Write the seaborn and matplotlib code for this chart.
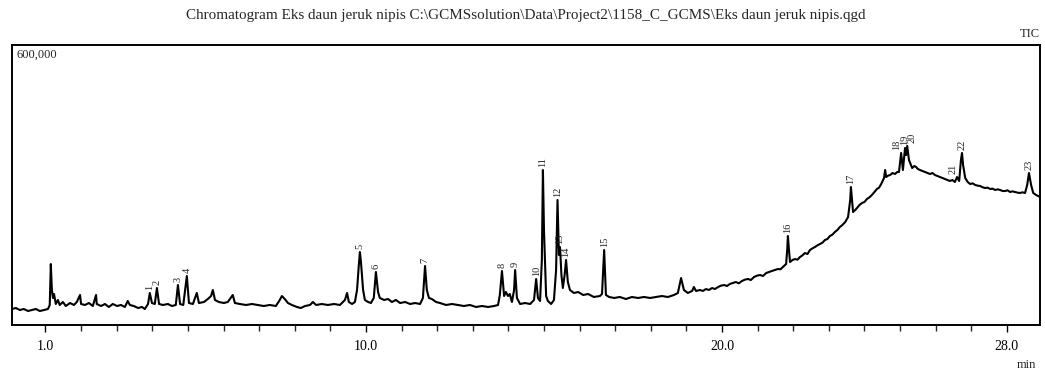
import matplotlib
matplotlib.use("Agg")
import matplotlib.pyplot as plt
import seaborn as sns
import pandas as pd

# ---- data (retention time in min, TIC counts) ----
times = [
    0.06, 0.17, 0.28, 0.39, 0.51, 0.62, 0.73, 0.84, 0.96, 1.07, 1.12, 1.15, 1.18, 1.21, 1.24,
    1.29, 1.35, 1.40, 1.49, 1.57, 1.69, 1.80, 1.88, 1.97, 2.00, 2.11, 2.22, 2.33, 2.42, 2.44,
    2.56, 2.67, 2.78, 2.89, 3.01, 3.12, 3.23, 3.31, 3.37, 3.48, 3.60, 3.71, 3.79, 3.88, 3.93,
    3.99, 4.07, 4.13, 4.19, 4.30, 4.44, 4.55, 4.66, 4.72, 4.78, 4.87, 4.97, 5.03, 5.14, 5.25,
    5.31, 5.45, 5.56, 5.65, 5.70, 5.76, 5.87, 6.01, 6.12, 6.26, 6.32, 6.46, 6.63, 6.80, 6.97,
    7.13, 7.30, 7.47, 7.58, 7.64, 7.72, 7.81, 7.92, 8.06, 8.17, 8.29, 8.43, 8.51, 8.60, 8.76,
    8.93, 9.10, 9.27, 9.41, 9.47, 9.52, 9.61, 9.69, 9.75, 9.80, 9.83, 9.86, 9.92, 9.97, 10.06,
    10.14, 10.22, 10.28, 10.34, 10.39, 10.51, 10.62, 10.73, 10.84, 10.96, 11.10, 11.24, 11.38,
    11.52, 11.60, 11.66, 11.71, 11.77, 11.85, 11.97, 12.08, 12.25, 12.42, 12.58, 12.75, 12.92,
    13.09, 13.26, 13.43, 13.60, 13.71, 13.76, 13.82, 13.88, 13.93, 13.99, 14.04, 14.10, 14.16,
    14.19, 14.24, 14.33, 14.47, 14.61, 14.72, 14.78, 14.83, 14.89, 14.94, 14.97, 15.00, 15.06,
    15.11, 15.20, 15.28, 15.34, 15.38, 15.42, 15.45, 15.49, 15.53, 15.58, 15.62, 15.67, 15.73,
    15.84, 15.96, 16.10, 16.24, 16.40, 16.57, 16.63, 16.69, 16.74, 16.83, 16.97, 17.13, 17.30,
    17.47, 17.64, 17.81, 17.98, 18.15, 18.31, 18.48, 18.65, 18.76, 18.85, 18.93, 19.04, 19.16,
    19.21, 19.27, 19.38, 19.46, 19.55, 19.63, 19.72, 19.80, 19.89, 19.97, 20.06, 20.14, 20.22,
    20.30, 20.39, 20.47, 20.56, 20.64, 20.73, 20.81, 20.90, 20.98, 21.07, 21.15, 21.24, 21.32,
    21.40, 21.49, 21.57, 21.64, 21.71, 21.80, 21.83, 21.85, 21.88, 21.91, 21.98, 22.05, 22.12,
    22.19, 22.26, 22.33, 22.40, 22.47, 22.54, 22.61, 22.68, 22.75, 22.82, 22.89, 22.96, 23.03,
    23.10, 23.17, 23.24, 23.31, 23.38, 23.46, 23.54, 23.60, 23.62, 23.65, 23.68, 23.74, 23.79,
    23.86, 23.93, 24.00, 24.07, 24.14, 24.21, 24.28, 24.35, 24.41, 24.47, 24.55, 24.58, 24.61,
    24.66, 24.72, 24.79, 24.86, 24.92, 24.97, 25.03, 25.08, 25.14, 25.17, 25.20, 25.25, 25.34,
    25.40, 25.45, 25.50, 25.56, 25.63, 25.70, 25.77, 25.84, 25.91, 25.98, 26.05, 26.12, 26.19,
    26.26, 26.33, 26.40, 26.47, 26.54, 26.60, 26.66, 26.71, 26.74, 26.77, 26.83, 26.90, 26.97,
    27.04, 27.11, 27.18, 27.25, 27.32, 27.39, 27.46, 27.53, 27.60, 27.67, 27.74, 27.81, 27.88,
    27.95, 28.02, 28.09, 28.16, 28.23, 28.30, 28.37, 28.44, 28.51, 28.57, 28.62, 28.68, 28.74,
    28.82, 28.93,
]
intensity = [
    34300, 36400, 32100, 34300, 30000, 32100, 34300, 30000, 32100, 34300, 42900, 130700, 75000, 57900, 66400,
    45000, 53600, 42900, 49300, 40700, 47100, 42900, 49300, 64300, 45000, 42900, 47100, 40700, 64300, 45000,
    40700, 45000, 38600, 45000, 40700, 42900, 38600, 51400, 42900, 40700, 36400, 38600, 34300, 45000, 68600,
    47100, 45000, 79300, 45000, 42900, 45000, 40700, 42900, 85700, 45000, 42900, 105000, 47100, 45000, 68600,
    47100, 49300, 55700, 62100, 75000, 53600, 49300, 47100, 49300, 64300, 47100, 45000, 42900, 45000, 42900,
    40700, 42900, 40700, 53600, 62100, 55700, 47100, 42900, 38600, 36400, 40700, 42900, 49300, 42900, 45000,
    42900, 45000, 42900, 53600, 68600, 49300, 45000, 49300, 75000, 128600, 156400, 135000, 75000, 53600, 49300,
    47100, 57900, 113600, 70700, 57900, 53600, 55700, 49300, 53600, 47100, 49300, 45000, 47100,
    45000, 57900, 126400, 75000, 57900, 55700, 49300, 47100, 42900, 45000, 42900, 40700, 42900,
    38600, 40700, 38600, 40700, 42900, 64300, 115700, 62100, 70700, 62100, 66400, 49300, 75000,
    117900, 57900, 45000, 47100, 45000, 53600, 98600, 57900, 51400, 139300, 332100, 203600, 62100,
    51400, 45000, 53600, 117900, 267900, 150000, 167100, 107100, 79300, 107100, 139300, 92100, 75000,
    68600, 70700, 64300, 66400, 60000, 62100, 66400, 160700, 64300, 60000, 57900, 60000, 55700,
    60000, 57900, 60000, 57900, 60000, 62100, 60000, 64300, 68600, 100700, 75000, 68600, 72900,
    81400, 72900, 75000, 72900, 77100, 75000, 79300, 77100, 81400, 84300, 85700, 83600, 87900,
    90000, 92100, 89300, 94300, 97100, 98600, 96400, 102900, 105700, 107100, 105000, 111400, 113600,
    115700, 117900, 120000, 119300, 124300, 130700, 160700, 190700, 160700, 135000, 139300, 141400, 140000,
    145700, 149300, 154300, 152100, 160700, 164300, 167100, 170700, 173600, 176400, 182100, 184300, 190700,
    193600, 199300, 203600, 210000, 214300, 220700, 231400, 267900, 295700, 267900, 242100, 246400, 250700,
    257100, 261400, 263600, 270000, 273600, 278600, 285000, 291400, 294300, 302100, 315000, 332100, 317100,
    320000, 321400, 325700, 323600, 327900, 327900, 368600, 332100, 379300, 364300, 383600, 353600, 336400,
    340700, 338600, 334300, 332100, 330000, 327900, 325700, 323600, 325700, 321400, 319300, 317100, 315000,
    312900, 310700, 308600, 310700, 306400, 317100, 308600, 353600, 368600, 342900, 315000, 306400, 302100,
    303600, 300000, 298600, 297900, 295000, 293600, 294300, 291400, 292100, 289300, 290700, 289300, 287100,
    287100, 288600, 285000, 286400, 285000, 283600, 282900, 284300, 282900, 300000, 325700, 300000, 282900,
    278600, 274300,
]

# peak labels: number, retention time, apex intensity
peak_ids = [str(i) for i in range(1, 24)]
peak_times = [3.93, 4.13, 4.72, 4.97, 9.83, 10.28, 11.66, 13.82, 14.19, 14.78, 14.97, 15.38,
              15.45, 15.62, 16.69, 21.85, 23.62, 25.03, 25.14, 25.20, 26.58, 26.74, 28.62]
peak_heights = [68600, 79300, 85700, 105000, 156400, 113600, 126400, 115700, 117900, 98600, 332100,
                267900, 167100, 139300, 160700, 190700, 295700, 368600, 379300, 383600, 317100,
                368600, 325700]

tick_vals = [1.0, 10.0, 20.0, 28.0]
tick_labels = ["1.0", "10.0", "20.0", "28.0"]

title = r"Chromatogram Eks daun jeruk nipis C:\GCMSsolution\Data\Project2\1158_C_GCMS\Eks daun jeruk nipis.qgd"

# ---- drawing ----
sns.set_style("white")
plt.rcParams["font.family"] = ["Liberation Serif", "DejaVu Serif"]

fig = plt.figure(figsize=(10.45, 3.70), dpi=100)
ax = fig.add_axes([12 / 1045, 45 / 370, 1028 / 1045, 280 / 370])

df = pd.DataFrame({"time": times, "tic": intensity})
sns.lineplot(data=df, x="time", y="tic", ax=ax, color="black", linewidth=1.5,
             estimator=None, sort=False)

label_dx = {"18": -3.5, "19": 0.0, "20": 3.5, "21": -2.0}
for pid, t, h in zip(peak_ids, peak_times, peak_heights):
    ax.annotate(pid, (t, h), xytext=(label_dx.get(pid, 0.0), 2), textcoords="offset points",
                rotation=90, ha="center", va="bottom", fontsize=7.5, color="#222222")

ax.set_xlim(0.06, 28.93)
ax.set_ylim(0, 600000)
ax.set_yticks([])
ax.set_xticks(tick_vals)
ax.set_xticklabels(tick_labels, fontsize=10)
ax.set_xticks(list(range(1, 29)), minor=True)
ax.tick_params(axis="x", which="major", direction="out", length=5, width=1.0, pad=6,
               bottom=True, colors="black")
ax.tick_params(axis="x", which="minor", direction="out", length=4, width=1.0, bottom=True)
ax.set_xlabel("")
ax.set_ylabel("")
for s in ax.spines.values():
    s.set_color("black")
    s.set_linewidth(1.4)

ax.text(0.004, 0.985, "600,000", transform=ax.transAxes, ha="left", va="top", fontsize=9)
fig.text(526 / 1045, 1 - 15 / 370, title, ha="center", va="center", fontsize=10.9)
fig.text(1040 / 1045, 1 - 34 / 370, "TIC", ha="right", va="center", fontsize=9)
fig.text(1036 / 1045, 1 - 365 / 370, "min", ha="right", va="center", fontsize=9)

fig.savefig("out.png", dpi=100)
